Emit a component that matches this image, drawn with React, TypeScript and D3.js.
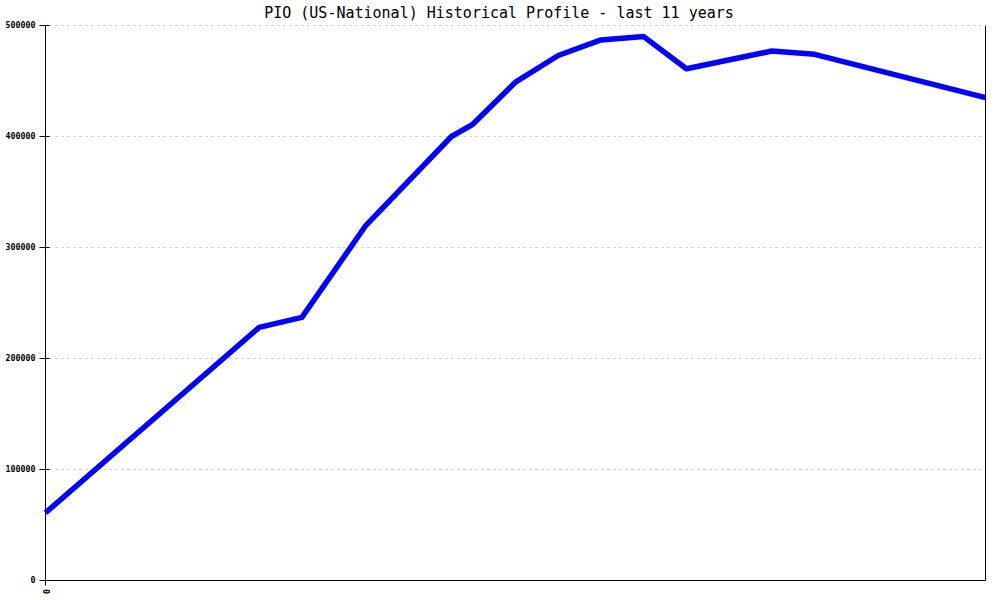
import React from "react";
import * as d3 from "d3";

const title = "PIO (US-National) Historical Profile - last 11 years";
// x positions in years from start
const years = [0, 2.5, 3, 3.75, 4.75, 5, 5.5, 6, 6.5, 7, 7.5, 8.5, 9, 11];
const values = [61000, 228000, 237000, 320000, 400000, 411000, 449000, 473000, 487000, 490000, 461000, 477000, 474000, 435000];
const yTicks = [0, 100000, 200000, 300000, 400000, 500000];
const xTicks = [0];

const W = 1000, H = 600;
const left = 45.5, right = 985.5, top = 25.5, bottom = 580.5;

export default function App() {
  const x = d3.scaleLinear().domain([0, 11]).range([left, right]);
  const y = d3.scaleLinear().domain([0, 500000]).range([bottom, top]);
  const line = d3.line<number>().x((_, i) => x(years[i])).y((d) => y(d));
  const mono = "'DejaVu Sans Mono', 'Liberation Mono', monospace";
  return (
    <svg width={W} height={H} style={{ position: "absolute", left: 0, top: 0, background: "#fff" }}>
      <text x={499} y={18} textAnchor="middle" fontFamily={mono} fontSize={15} fill="#000">{title}</text>
      {yTicks.map((t) => (
        <g key={t}>
          {t > 0 && (
            <line x1={left + 4} x2={right} y1={y(t)} y2={y(t)} stroke="#c0c0c0" strokeDasharray="2,4" />
          )}
          <line x1={left - 6} x2={left + 4} y1={y(t)} y2={y(t)} stroke="#000" />
          <text x={left - 10} y={y(t)} dy="0.35em" textAnchor="end" fontFamily={mono} fontWeight="bold" fontSize={8.3} fill="#000">{t}</text>
        </g>
      ))}
      {xTicks.map((t) => (
        <g key={"x" + t}>
          <line x1={x(t)} x2={x(t)} y1={bottom - 5} y2={bottom + 5} stroke="#000" />
          <text transform={`translate(${x(t)},${bottom + 11}) rotate(90)`} dy="0.35em" textAnchor="middle" fontFamily={mono} fontWeight="bold" fontSize={8.3} fill="#000">{t}</text>
        </g>
      ))}
      <line x1={left} x2={left} y1={top} y2={bottom} stroke="#000" />
      <line x1={left} x2={right} y1={bottom} y2={bottom} stroke="#000" />
      <line x1={right} x2={right} y1={top} y2={bottom} stroke="#000" />
      <path d={line(values) || ""} fill="none" stroke="#0000ff" strokeWidth={5.5} strokeLinejoin="round" />
    </svg>
  );
}
